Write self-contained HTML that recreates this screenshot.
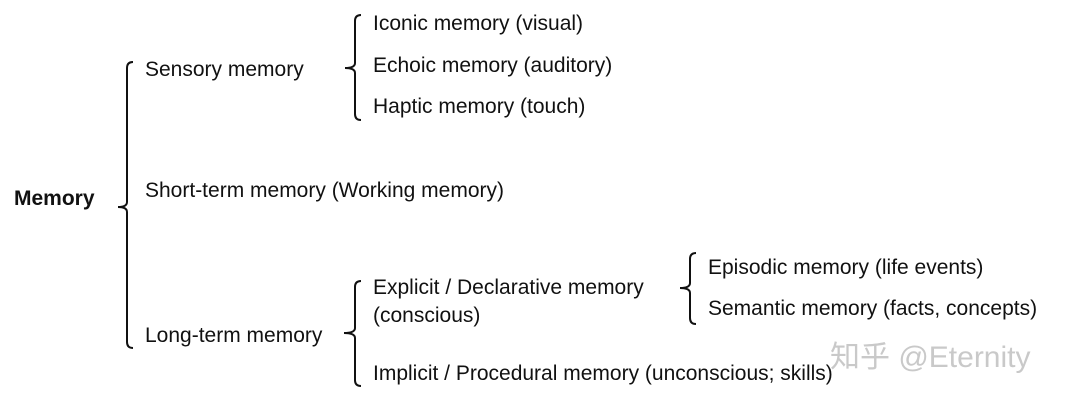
<!DOCTYPE html>
<html><head><style>body{margin:0;background:#fff}svg{display:block}</style></head><body>
<svg width="1080" height="405" xmlns="http://www.w3.org/2000/svg" font-family="Liberation Sans, Arial, sans-serif" font-size="21" fill="#111">
<g fill="none" stroke="#111" stroke-width="2">
<path d="M133,62 Q127,62 127,68 L127,202 Q127,207 118,207 Q127,207 127,212 L127,342 Q127,348 133,348"/>
<path d="M361,15 Q355,15 355,21 L355,63 Q355,68 345,68 Q355,68 355,73 L355,114 Q355,120 361,120"/>
<path d="M361,281 Q355,281 355,287 L355,328 Q355,333 344,333 Q355,333 355,338 L355,380 Q355,386 361,386"/>
<path d="M696,253 Q690,253 690,259 L690,283 Q690,288 680,288 Q690,288 690,293 L690,318 Q690,324 696,324"/>
</g>
<text x="14" y="205" font-weight="bold">Memory</text>
<text x="145" y="76">Sensory memory</text>
<text x="145" y="197">Short-term memory (Working memory)</text>
<text x="145" y="342">Long-term memory</text>
<text x="373" y="30">Iconic memory (visual)</text>
<text x="373" y="72">Echoic memory (auditory)</text>
<text x="373" y="113">Haptic memory (touch)</text>
<text x="373" y="294">Explicit / Declarative memory</text>
<text x="373" y="322">(conscious)</text>
<text x="373" y="380">Implicit / Procedural memory (unconscious; skills)</text>
<text x="708" y="274">Episodic memory (life events)</text>
<text x="708" y="315">Semantic memory (facts, concepts)</text>
<text x="830" y="367" font-size="30" fill="#bbb" fill-opacity="0.8" font-family="Liberation Sans, Noto Sans CJK SC, sans-serif">知乎 @Eternity</text>
</svg>
</body></html>
